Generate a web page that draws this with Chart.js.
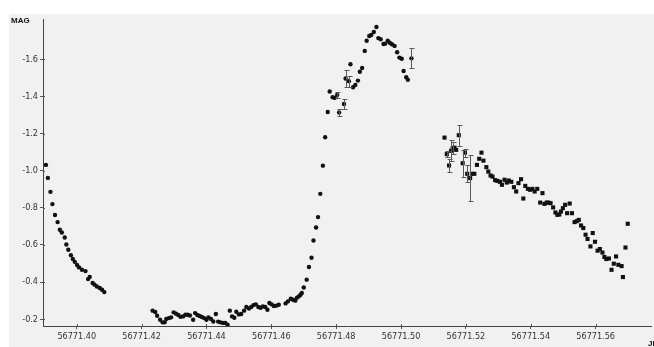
<!DOCTYPE html>
<html>
<head>
<meta charset="utf-8">
<script src="https://cdn.jsdelivr.net/npm/chart.js@4/dist/chart.umd.min.js"></script>
<style>
  html, body { margin: 0; padding: 0; background: #ffffff; }
  canvas { display: block; }
</style>
</head>
<body>
<canvas id="lc" width="654" height="347" style="width:654px;height:347px"></canvas>
<script>
// Light curve: magnitude against Julian Date
const jd = [
  // early decline
  56771.3905, 56771.3911, 56771.3919, 56771.3925, 56771.3933, 56771.3941, 56771.3948, 56771.3954,
  56771.3963, 56771.3968, 56771.3974, 56771.3982, 56771.3988, 56771.3994, 56771.4001, 56771.4007,
  56771.4016, 56771.4027, 56771.4035, 56771.4040, 56771.4049, 56771.4055, 56771.4062, 56771.4071,
  56771.4078, 56771.4085,
  // minimum
  56771.4234, 56771.4242, 56771.4248, 56771.4257, 56771.4265, 56771.4271, 56771.4276, 56771.4284,
  56771.4291, 56771.4299, 56771.4306, 56771.4313, 56771.4320, 56771.4328, 56771.4335, 56771.4342,
  56771.4349, 56771.4359, 56771.4365, 56771.4372, 56771.4379, 56771.4386, 56771.4393, 56771.4400,
  56771.4406, 56771.4414, 56771.4421, 56771.4429, 56771.4436, 56771.4443, 56771.4451, 56771.4458,
  56771.4465, 56771.4472, 56771.4479, 56771.4486, 56771.4492, 56771.4500, 56771.4507, 56771.4516,
  56771.4523, 56771.4531, 56771.4538, 56771.4545, 56771.4552, 56771.4560, 56771.4567, 56771.4574,
  56771.4581, 56771.4588, 56771.4594, 56771.4601, 56771.4608, 56771.4615, 56771.4623, 56771.4644,
  56771.4651, 56771.4660, 56771.4667, 56771.4674, 56771.4679, 56771.4685, 56771.4690, 56771.4694,
  // rise and maximum
  56771.4700, 56771.4709, 56771.4716, 56771.4724, 56771.4730, 56771.4738, 56771.4744, 56771.4751,
  56771.4759, 56771.4766, 56771.4774, 56771.4780, 56771.4789, 56771.4795, 56771.4803, 56771.4809,
  56771.4824, 56771.4829, 56771.4839, 56771.4844, 56771.4852, 56771.4859, 56771.4867, 56771.4873,
  56771.4880, 56771.4888, 56771.4894, 56771.4902, 56771.4908, 56771.4916, 56771.4924, 56771.4930,
  56771.4937, 56771.4946, 56771.4951, 56771.4959, 56771.4965, 56771.4972, 56771.4980, 56771.4988,
  56771.4995, 56771.5002, 56771.5008, 56771.5016, 56771.5021, 56771.5032,
  // late decline
  56771.5134, 56771.5141, 56771.5148, 56771.5154, 56771.5159, 56771.5165, 56771.5170, 56771.5178,
  56771.5190, 56771.5197, 56771.5204, 56771.5213, 56771.5219, 56771.5226, 56771.5234, 56771.5241,
  56771.5248, 56771.5254, 56771.5263, 56771.5269, 56771.5276, 56771.5282, 56771.5290, 56771.5297,
  56771.5305, 56771.5311, 56771.5319, 56771.5326, 56771.5332, 56771.5340, 56771.5348, 56771.5355,
  56771.5362, 56771.5370, 56771.5377, 56771.5383, 56771.5391, 56771.5398, 56771.5405, 56771.5412,
  56771.5420, 56771.5429, 56771.5436, 56771.5442, 56771.5449, 56771.5454, 56771.5461, 56771.5469,
  56771.5476, 56771.5482, 56771.5488, 56771.5493, 56771.5499, 56771.5506, 56771.5512, 56771.5520,
  56771.5527, 56771.5535, 56771.5542, 56771.5548, 56771.5555, 56771.5562, 56771.5569, 56771.5575,
  56771.5584, 56771.5591, 56771.5598, 56771.5606, 56771.5613, 56771.5621, 56771.5627, 56771.5633,
  56771.5641, 56771.5649, 56771.5656, 56771.5663, 56771.5670, 56771.5680, 56771.5684, 56771.5692,
  56771.5699
];

const mag = [
  -1.031, -0.961, -0.886, -0.820, -0.761, -0.723, -0.682, -0.667,
  -0.640, -0.602, -0.574, -0.545, -0.524, -0.509, -0.492, -0.479,
  -0.466, -0.459, -0.416, -0.427, -0.395, -0.386, -0.376, -0.368,
  -0.359, -0.346,
  -0.246, -0.239, -0.219, -0.197, -0.183, -0.183, -0.201, -0.206,
  -0.210, -0.237, -0.230, -0.223, -0.213, -0.215, -0.224, -0.224,
  -0.220, -0.197, -0.233, -0.223, -0.217, -0.212, -0.206, -0.197,
  -0.210, -0.201, -0.188, -0.228, -0.187, -0.183, -0.180, -0.180,
  -0.170, -0.246, -0.215, -0.208, -0.240, -0.226, -0.228, -0.246,
  -0.266, -0.258, -0.266, -0.276, -0.280, -0.266, -0.262, -0.269,
  -0.266, -0.251, -0.287, -0.280, -0.271, -0.273, -0.278, -0.285,
  -0.296, -0.310, -0.305, -0.300, -0.316, -0.323, -0.332, -0.341,
  -0.371, -0.413, -0.481, -0.531, -0.624, -0.694, -0.750, -0.875,
  -1.027, -1.180, -1.316, -1.426, -1.396, -1.392, -1.408, -1.313,
  -1.359, -1.496, -1.482, -1.573, -1.449, -1.462, -1.485, -1.533,
  -1.553, -1.645, -1.700, -1.725, -1.731, -1.747, -1.774, -1.714,
  -1.708, -1.682, -1.684, -1.700, -1.689, -1.681, -1.672, -1.638,
  -1.609, -1.603, -1.537, -1.503, -1.489, -1.605,
  -1.178, -1.089, -1.028, -1.107, -1.121, -1.124, -1.112, -1.191,
  -1.040, -1.097, -0.983, -0.960, -0.983, -0.983, -1.031, -1.064,
  -1.097, -1.054, -1.019, -0.995, -0.974, -0.968, -0.949, -0.945,
  -0.940, -0.924, -0.951, -0.936, -0.947, -0.940, -0.911, -0.888,
  -0.933, -0.954, -0.850, -0.918, -0.902, -0.897, -0.902, -0.888,
  -0.902, -0.828, -0.879, -0.821, -0.828, -0.828, -0.825, -0.802,
  -0.775, -0.762, -0.764, -0.780, -0.798, -0.816, -0.771, -0.823,
  -0.771, -0.723, -0.728, -0.735, -0.705, -0.691, -0.655, -0.632,
  -0.592, -0.664, -0.617, -0.569, -0.578, -0.559, -0.535, -0.524,
  -0.527, -0.466, -0.499, -0.538, -0.493, -0.486, -0.427, -0.586,
  -0.714
];

// measurement uncertainties (0 = no error bar drawn)
const sigma = [
  0, 0, 0, 0, 0, 0, 0, 0,  0, 0, 0, 0, 0, 0, 0, 0,  0, 0, 0, 0, 0, 0, 0, 0,  0, 0,
  0, 0, 0, 0, 0, 0, 0, 0,  0, 0, 0, 0, 0, 0, 0, 0,  0, 0, 0, 0, 0, 0, 0, 0,
  0, 0, 0, 0, 0, 0, 0, 0,  0, 0, 0, 0, 0, 0, 0, 0,  0, 0, 0, 0, 0, 0, 0, 0,
  0, 0, 0, 0, 0, 0, 0, 0,  0, 0, 0, 0, 0, 0, 0, 0,
  0, 0, 0, 0, 0, 0, 0, 0,  0, 0, 0, 0, 0, 0, 0.017, 0.017,
  0.029, 0.044, 0.029, 0, 0, 0, 0, 0,  0, 0, 0, 0, 0, 0, 0, 0,
  0, 0, 0, 0, 0, 0, 0, 0,  0, 0, 0, 0, 0, 0.053,
  0, 0.015, 0.036, 0.056, 0.031, 0, 0, 0.056,
  0.072, 0.022, 0.045, 0.124, 0, 0, 0, 0,
  0, 0, 0, 0, 0, 0, 0, 0,  0, 0, 0, 0, 0, 0, 0, 0,
  0, 0, 0, 0, 0, 0, 0, 0,  0, 0, 0, 0, 0, 0, 0, 0,
  0, 0, 0, 0, 0, 0, 0, 0,  0, 0, 0, 0, 0, 0, 0, 0,
  0, 0, 0, 0, 0, 0, 0, 0,  0, 0, 0, 0, 0, 0, 0, 0,
  0, 0.010, 0, 0, 0, 0, 0.018, 0.049,
  0.116
];

const xTicks = [56771.40, 56771.42, 56771.44, 56771.46, 56771.48, 56771.50, 56771.52, 56771.54, 56771.56];
const yTicks = [-1.6, -1.4, -1.2, -1.0, -0.8, -0.6, -0.4, -0.2];

const tickFont = { family: "'Liberation Sans Narrow', 'DejaVu Sans Condensed', 'Liberation Sans', sans-serif", size: 9 };

const panelPlugin = {
  id: 'panel',
  beforeDraw(chart) {
    const ctx = chart.ctx;
    ctx.save();
    ctx.fillStyle = '#ffffff';
    ctx.fillRect(0, 0, chart.width, chart.height);
    ctx.fillStyle = '#f1f1f1';
    ctx.fillRect(9, 14, chart.width - 9, chart.height - 14);
    ctx.restore();
  },
  afterDraw(chart) {
    const ctx = chart.ctx;
    const a = chart.chartArea;
    const xs = chart.scales.x, ys = chart.scales.y;
    ctx.save();
    // inner halves of the tick marks
    ctx.strokeStyle = '#555';
    ctx.lineWidth = 1;
    ctx.beginPath();
    xTicks.forEach(v => {
      const px = Math.round(xs.getPixelForValue(v)) + 0.5;
      ctx.moveTo(px, a.bottom);
      ctx.lineTo(px, a.bottom - 2);
    });
    yTicks.forEach(v => {
      const py = Math.round(ys.getPixelForValue(v)) + 0.5;
      ctx.moveTo(a.left, py);
      ctx.lineTo(a.left + 2, py);
    });
    ctx.stroke();
    // axis captions
    ctx.fillStyle = '#111';
    ctx.font = "bold 8px 'Liberation Sans', sans-serif";
    ctx.textBaseline = 'alphabetic';
    ctx.textAlign = 'left';
    ctx.fillText('MAG', 11, 23);
    ctx.fillText('JD', 648, 346);
    ctx.restore();
  }
};

const errorBarPlugin = {
  id: 'errorBars',
  afterDatasetsDraw(chart) {
    const ctx = chart.ctx;
    const xs = chart.scales.x, ys = chart.scales.y;
    ctx.save();
    ctx.strokeStyle = '#5a5a5a';
    ctx.lineWidth = 1;
    ctx.beginPath();
    sigma.forEach((s, i) => {
      if (!s) return;
      const px = Math.round(xs.getPixelForValue(jd[i])) + 0.5;
      const y1 = Math.round(ys.getPixelForValue(mag[i] - s)) + 0.5;
      const y2 = Math.round(ys.getPixelForValue(mag[i] + s)) + 0.5;
      ctx.moveTo(px, y1); ctx.lineTo(px, y2);
      ctx.moveTo(px - 2, y1); ctx.lineTo(px + 3, y1);
      ctx.moveTo(px - 2, y2); ctx.lineTo(px + 3, y2);
    });
    ctx.stroke();
    ctx.restore();
  }
};

new Chart(document.getElementById('lc'), {
  type: 'scatter',
  data: {
    datasets: [{
      data: jd.map((x, i) => ({ x: x, y: mag[i] })),
      backgroundColor: '#111111',
      borderColor: '#111111',
      borderWidth: 0,
      pointRadius: ctx => (ctx.raw && ctx.raw.x > 56771.51 ? 2.9 : 2.2),
      pointStyle: ctx => (ctx.raw && ctx.raw.x > 56771.51 ? 'rect' : 'circle'),
      pointHoverRadius: 2.2
    }]
  },
  options: {
    responsive: false,
    animation: false,
    devicePixelRatio: 1,
    layout: { padding: { top: 19, left: 0, right: 0, bottom: 0 } },
    plugins: { legend: { display: false }, tooltip: { enabled: false } },
    scales: {
      x: {
        type: 'linear',
        min: 56771.3896,
        max: 56771.5771,
        afterFit: s => { s.height = 21; },
        afterBuildTicks: s => { s.ticks = xTicks.map(v => ({ value: v })); },
        ticks: {
          callback: v => v.toFixed(2),
          font: tickFont,
          color: '#333',
          maxRotation: 0,
          autoSkip: false,
          padding: 2
        },
        grid: { drawOnChartArea: false, tickLength: 3, color: '#555' },
        border: { color: '#444', width: 1 }
      },
      y: {
        reverse: true,
        min: -1.8168,
        max: -0.1634,
        afterFit: s => { s.width = 43; },
        afterBuildTicks: s => { s.ticks = yTicks.map(v => ({ value: v })); },
        ticks: {
          callback: v => v.toFixed(1),
          font: tickFont,
          color: '#333',
          autoSkip: false,
          padding: 2
        },
        grid: { drawOnChartArea: false, tickLength: 3, color: '#555' },
        border: { color: '#444', width: 1 }
      }
    }
  },
  plugins: [panelPlugin, errorBarPlugin]
});
</script>
</body>
</html>
